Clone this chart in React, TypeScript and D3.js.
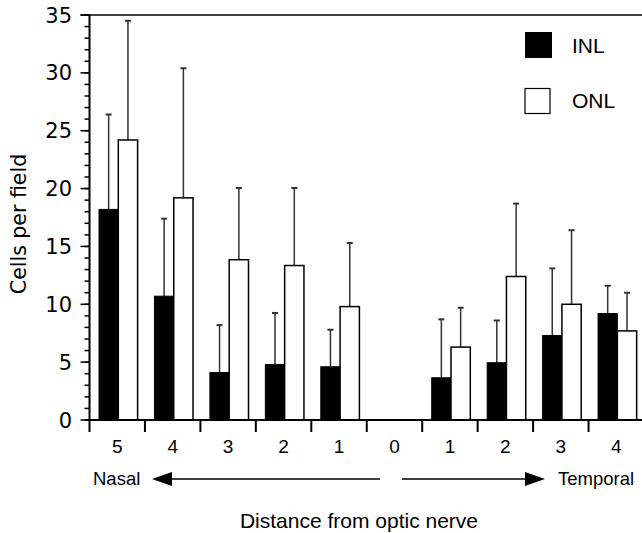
import React from "react";
import * as d3 from "d3";

const categories = ["5", "4", "3", "2", "1", "0", "1", "2", "3", "4"];
const inlValues = [18.2, 10.7, 4.1, 4.8, 4.6, null, 3.65, 4.95, 7.3, 9.2];
const inlUpper = [26.4, 17.4, 8.2, 9.25, 7.8, null, 8.7, 8.6, 13.1, 11.6];
const onlValues = [24.2, 19.2, 13.85, 13.35, 9.8, null, 6.3, 12.4, 10.0, 7.7];
const onlUpper = [34.5, 30.4, 20.05, 20.05, 15.3, null, 9.7, 18.7, 16.4, 11.0];
const yMajorTicks = [0, 5, 10, 15, 20, 25, 30, 35];
const yMinorTicks = d3.range(0, 36);

const W = 642;
const H = 533;
const LEFT = 89.5;
const BAND = 55.45;
const TOP = 15;
const BASE = 420;

export default function App() {
  const idx = categories.map((_, i) => i);
  const x = d3.scaleBand<number>().domain(idx).range([LEFT, LEFT + BAND * 10]).padding(0);
  const y = d3.scaleLinear().domain([0, 35]).range([BASE, TOP]);
  const barW = 19.3;
  const off1 = 9.5;
  const off2 = off1 + barW;
  const arial = "'Liberation Sans', Arial, sans-serif";
  const dejavu = "'DejaVu Sans', sans-serif";

  const errBar = (cx: number, v: number, up: number, key: string) => (
    <g key={key} stroke="#333" strokeWidth={1.5}>
      <line x1={cx} x2={cx} y1={y(v)} y2={y(up)} />
      <line x1={cx - 3} x2={cx + 3} y1={y(up)} y2={y(up)} strokeWidth={2} />
    </g>
  );

  return (
    <svg width={W} height={H} style={{ position: "absolute", left: 0, top: 0, background: "#fff" }}>
      {/* bars */}
      {idx.map((i) => {
        const v1 = inlValues[i];
        const v2 = onlValues[i];
        if (v1 == null || v2 == null) return null;
        const x0 = x(i)!;
        return (
          <g key={"b" + i}>
            {errBar(x0 + off1 + barW / 2, v1, inlUpper[i]!, "e1" + i)}
            {errBar(x0 + off2 + barW / 2, v2, onlUpper[i]!, "e2" + i)}
            <rect x={x0 + off1} y={y(v1)} width={barW} height={BASE - y(v1)} fill="#000" stroke="#000" strokeWidth={1} />
            <rect x={x0 + off2} y={y(v2)} width={barW} height={BASE - y(v2)} fill="#fff" stroke="#000" strokeWidth={1.5} />
          </g>
        );
      })}

      {/* top frame line */}
      <line x1={LEFT - 9} x2={W} y1={TOP} y2={TOP} stroke="#444" strokeWidth={2} />
      {/* y axis */}
      <line x1={LEFT} x2={LEFT} y1={TOP} y2={BASE} stroke="#000" strokeWidth={2} />
      {yMinorTicks.map((t) => (
        <line key={"m" + t} x1={LEFT - 5} x2={LEFT} y1={y(t)} y2={y(t)} stroke="#000" strokeWidth={1.5} />
      ))}
      {yMajorTicks.map((t) => (
        <g key={"t" + t}>
          <line x1={LEFT - 9} x2={LEFT} y1={y(t)} y2={y(t)} stroke="#000" strokeWidth={1.5} />
          <text x={72} y={y(t)} dy="0.36em" textAnchor="end" fontFamily={dejavu} fontSize={21} fill="#000">
            {t}
          </text>
        </g>
      ))}

      {/* x axis */}
      <line x1={LEFT} x2={W} y1={BASE} y2={BASE} stroke="#000" strokeWidth={2} />
      {idx.map((i) => (
        <line key={"xt" + i} x1={x(i)!} x2={x(i)!} y1={BASE} y2={BASE + 12} stroke="#000" strokeWidth={2} />
      ))}
      {idx.map((i) => (
        <text key={"xl" + i} x={x(i)! + x.bandwidth() / 2} y={453} textAnchor="middle" fontFamily={arial} fontSize={19} fill="#000">
          {categories[i]}
        </text>
      ))}

      {/* direction arrows */}
      <text x={93} y={485} fontFamily={arial} fontSize={18.5} fill="#000">Nasal</text>
      <line x1={170} x2={380} y1={479} y2={479} stroke="#000" strokeWidth={1.5} />
      <path d="M152,479 L172,472 L172,486 Z" fill="#000" />
      <line x1={402} x2={527} y1={479} y2={479} stroke="#000" strokeWidth={1.5} />
      <path d="M545,479 L525,472 L525,486 Z" fill="#000" />
      <text x={558} y={485} fontFamily={arial} fontSize={18.5} fill="#000">Temporal</text>

      <text x={359} y={528} textAnchor="middle" fontFamily={arial} fontSize={21} fill="#000">
        Distance from optic nerve
      </text>

      <text transform={`translate(26,224) rotate(-90)`} textAnchor="middle" fontFamily={dejavu} fontSize={20.5} fill="#000">
        Cells per field
      </text>

      {/* legend */}
      <rect x={525} y={32} width={27} height={26} fill="#000" />
      <text x={572} y={53} fontFamily={arial} fontSize={21} fill="#000">INL</text>
      <rect x={525} y={88.5} width={25} height={25} fill="#fff" stroke="#000" strokeWidth={1.2} />
      <text x={572} y={108} fontFamily={arial} fontSize={21} fill="#000">ONL</text>
    </svg>
  );
}
